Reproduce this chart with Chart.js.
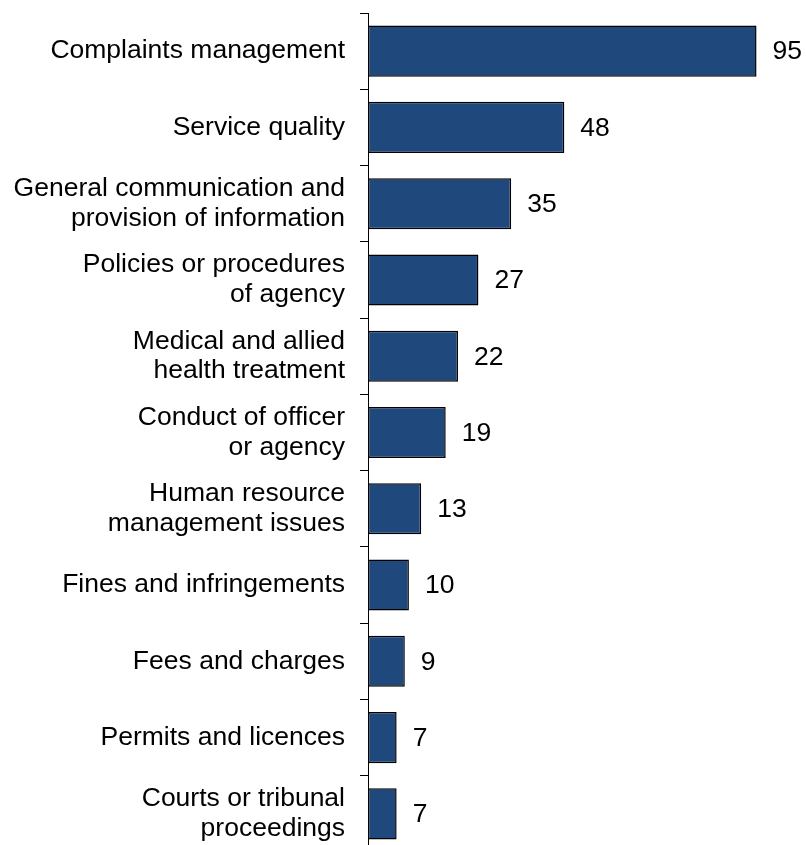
<!DOCTYPE html>
<html>
<head>
<meta charset="utf-8">
<title>Complaints by issue</title>
<script src="https://cdn.jsdelivr.net/npm/chart.js@4/dist/chart.umd.min.js"></script>
<style>
  html, body { margin: 0; padding: 0; background: #ffffff; overflow: hidden; }
  #frame { width: 806px; height: 845px; overflow: hidden; position: relative; }
  canvas { display: block; }
</style>
</head>
<body>
<div id="frame">
  <canvas id="chart" width="806" height="861"></canvas>
</div>
<script>
// Issue categories (multi-line labels as arrays)
const categories = [
  ["Complaints management"],
  ["Service quality"],
  ["General communication and", "provision of information"],
  ["Policies or procedures", "of agency"],
  ["Medical and allied", "health treatment"],
  ["Conduct of officer", "or agency"],
  ["Human resource", "management issues"],
  ["Fines and infringements"],
  ["Fees and charges"],
  ["Permits and licences"],
  ["Courts or tribunal", "proceedings"]
];

// Number of complaints per issue
const counts = [95, 48, 35, 27, 22, 19, 13, 10, 9, 7, 7];

// Value axis range
const valueMin = 0;
const valueMax = 100;

const FONT_FAMILY = "'Liberation Sans', Arial, Helvetica, sans-serif";
const FONT_SIZE = 26.5;
const BAR_FILL = '#1F497D';
const INK = '#000000';

// Writes each bar's value just past its end
const barValueLabels = {
  id: 'barValueLabels',
  afterDatasetsDraw(chart) {
    const ctx = chart.ctx;
    ctx.save();
    ctx.font = FONT_SIZE + 'px ' + FONT_FAMILY;
    ctx.fillStyle = INK;
    ctx.textAlign = 'left';
    ctx.textBaseline = 'middle';
    chart.data.datasets.forEach((ds, di) => {
      const meta = chart.getDatasetMeta(di);
      meta.data.forEach((bar, i) => {
        ctx.fillText(String(ds.data[i]), bar.x + 16, bar.y + 1);
      });
    });
    ctx.restore();
  }
};

new Chart(document.getElementById('chart'), {
  type: 'bar',
  data: {
    labels: categories,
    datasets: [{
      data: counts,
      backgroundColor: BAR_FILL,
      borderColor: INK,
      borderWidth: 1.5,
      borderSkipped: false,
      categoryPercentage: 1.0,
      barPercentage: 0.67
    }]
  },
  options: {
    indexAxis: 'y',
    responsive: false,
    animation: false,
    devicePixelRatio: 1,
    layout: { padding: { top: 13, bottom: 9, left: 0, right: 29 } },
    plugins: {
      legend: { display: false },
      tooltip: { enabled: false },
      title: { display: false }
    },
    scales: {
      x: {
        display: false,
        min: valueMin,
        max: valueMax
      },
      y: {
        position: 'left',
        afterFit(scale) {
          // fixed label column; category bands run edge to edge
          scale.width = 368;
          scale.paddingTop = 0;
          scale.paddingBottom = 0;
        },
        border: { display: true, color: INK, width: 1 },
        grid: {
          offset: true,
          drawOnChartArea: false,
          drawTicks: true,
          tickLength: 8,
          color: INK,
          lineWidth: 1
        },
        ticks: {
          autoSkip: false,
          padding: 15,
          color: INK,
          font: { family: FONT_FAMILY, size: FONT_SIZE, lineHeight: 1.12 }
        }
      }
    }
  },
  plugins: [barValueLabels]
});
</script>
</body>
</html>
